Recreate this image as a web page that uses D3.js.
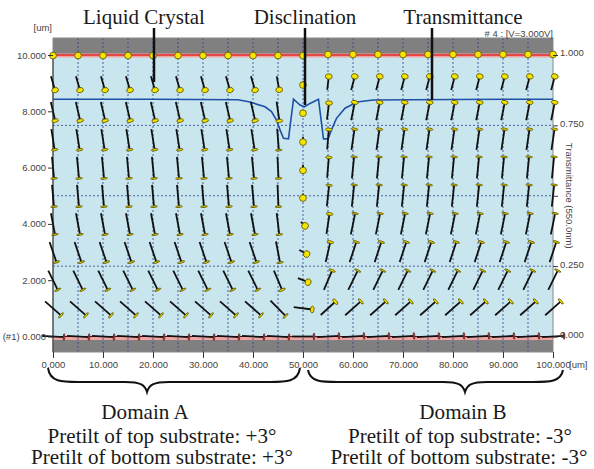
<!DOCTYPE html>
<html>
<head>
<meta charset="utf-8">
<script src="https://cdn.jsdelivr.net/npm/d3@7"></script>
<style>
  body { margin: 0; background: #fff; }
  svg text { font-family: Arial, "Liberation Sans", sans-serif; }
  .serif { font-family: "Liberation Serif", "Times New Roman", serif !important; fill: #1a1a1a; }
  .tick text { font-size: 9.5px; fill: #444; }
</style>
</head>
<body>
<div id="chart"></div>
<script>
// LC director field (TN cell at 3V) with transmittance overlay

// grid of director positions
var positionsX = [0, 5, 10, 15, 20, 25, 30, 35, 40, 45, 50, 55, 60, 65, 70, 75, 80, 85, 90, 95, 100];
var layersZ = [0, 1, 2, 3, 4, 5, 6, 7, 8, 9, 10];

// tilt (deg, sign = head up/down) and twist (deg) per layer, bottom -> top
var tiltDomainA = [-3, -39.5, -61, -66, -75, -82, -79, -70, -58, -39.5, -3];
var twistDomainA = [0, 20, 27, 40, 45, 50, 60, 64, 68, 76, 90];
var tiltDomainB = [3, 39, 61, 66, 73, 80, 78, 70, 54, 38, 3];
var twistDomainB = [0, 24, 28, 42, 48, 52, 62, 66, 74, 78, 90];

// columns next to the disclination
var tilt45 = [-3, -44, -61, -73, -76, -84, -80, -76, -61, -37.5, -3];
var twist45 = [0, 18, 40, 51, 61, 65, 74, 72, 75, 82, 90];
var tilt50 = [0, -6, -10.5, -10.5, -10.5, -12, -15, -14, -10, -10, -3];
var twist50 = [0, 32, 62, 70, 79, 90, 90, 90, 90, 90, 90];
var tilt55 = [3, 37, 61, 65, 65, 73, 68, 65, 49, 37, 3];
var twist55 = [0, 34, 40, 60, 71, 69, 78, 80, 82, 85, 90];

// transmittance along x
var transPos = [0, 20, 37, 39.4, 42.4, 43.7, 44.7, 45.4, 46.1, 47.1, 48.1, 49.4, 50.3, 51.4, 53.1, 54.1, 55.0, 55.7, 56.7, 58.4, 60.8, 64, 80, 100];
var transVal = [0.843, 0.843, 0.841, 0.833, 0.816, 0.799, 0.769, 0.734, 0.704, 0.702, 0.843, 0.822, 0.816, 0.828, 0.843, 0.702, 0.702, 0.734, 0.775, 0.811, 0.833, 0.840, 0.842, 0.843];

// axis ticks
var xTicks = [0, 10, 20, 30, 40, 50, 60, 70, 80, 90, 100];
var zTicks = [0, 2, 4, 6, 8, 10];
var tTicks = [0, 0.25, 0.5, 0.75, 1];
var gridX = [5, 10, 15, 20, 25, 30, 35, 40, 45, 50, 55, 60, 65, 70, 75, 80, 85, 90, 95];
var gridT = [0.25, 0.5, 0.75];

var svgWidth = 594;
var svgHeight = 469;

var plotTop = 38, plotBottom = 352;

var svg = d3.select("#chart")
    .append("svg")
    .attr("width", svgWidth)
    .attr("height", svgHeight);

var xScale = d3.scaleLinear().domain([0, 100]).range([53, 553]);
var zScale = d3.scaleLinear().domain([0, 10]).range([336.5, 55]);
var tScale = d3.scaleLinear().domain([0, 1]).range([336.5, 55]);

// substrates (gray) and LC layer (light blue)
svg.append("rect")
    .attr("x", xScale(0)).attr("y", plotTop)
    .attr("width", xScale(100) - xScale(0)).attr("height", plotBottom - plotTop)
    .attr("fill", "#808080");
svg.append("rect")
    .attr("x", xScale(0)).attr("y", zScale(10))
    .attr("width", xScale(100) - xScale(0)).attr("height", zScale(0) - zScale(10) + 2)
    .attr("fill", "#c9e6ef");

// alignment layers
svg.append("rect")
    .attr("x", xScale(0)).attr("y", zScale(10) - 1.5)
    .attr("width", 500).attr("height", 4)
    .attr("fill", "#f0a3a3");
svg.append("line")
    .attr("x1", xScale(0)).attr("x2", xScale(100))
    .attr("y1", zScale(10)).attr("y2", zScale(10))
    .attr("stroke", "#e02828").attr("stroke-width", 1.5);
svg.append("rect")
    .attr("x", xScale(0)).attr("y", zScale(0))
    .attr("width", 500).attr("height", 3.5)
    .attr("fill", "#f0a3a3");
svg.append("line")
    .attr("x1", 43).attr("x2", xScale(100))
    .attr("y1", zScale(0)).attr("y2", zScale(0))
    .attr("stroke", "#5a1010").attr("stroke-width", 1.2);

// dashed grid
svg.selectAll(".gridx")
    .data(gridX)
    .join("line")
    .attr("x1", d => xScale(d)).attr("x2", d => xScale(d))
    .attr("y1", plotTop).attr("y2", plotBottom)
    .attr("stroke", "#2c3f8a").attr("stroke-width", 0.8)
    .attr("stroke-dasharray", "2,2");
svg.selectAll(".gridt")
    .data(gridT)
    .join("line")
    .attr("x1", xScale(0)).attr("x2", xScale(100))
    .attr("y1", d => tScale(d)).attr("y2", d => tScale(d))
    .attr("stroke", "#2c3f8a").attr("stroke-width", 0.8)
    .attr("stroke-dasharray", "2,2");

// frame
svg.append("rect")
    .attr("x", xScale(0)).attr("y", plotTop)
    .attr("width", 500).attr("height", plotBottom - plotTop)
    .attr("fill", "none").attr("stroke", "#8a8a8a");
svg.append("line")
    .attr("x1", xScale(0)).attr("x2", xScale(0))
    .attr("y1", zScale(10)).attr("y2", plotBottom)
    .attr("stroke", "#333");

// transmittance curve
var transData = transPos.map((p, i) => ({ x: p, t: transVal[i] }));
var line = d3.line().x(d => xScale(d.x)).y(d => tScale(d.t));
svg.append("path")
    .datum(transData)
    .attr("d", line)
    .attr("fill", "none")
    .attr("stroke", "#1f50a8")
    .attr("stroke-width", 1.6);

// pick the tilt/twist arrays for a column
function columnAngles(px) {
    if (px === 45) return [tilt45, twist45];
    if (px === 50) return [tilt50, twist50];
    if (px === 55) return [tilt55, twist55];
    if (px < 50) return [tiltDomainA, twistDomainA];
    return [tiltDomainB, twistDomainB];
}

var rodLength = 22;
var headR = 3.4;
var directors = [];
positionsX.forEach(px => {
    var ang = columnAngles(px);
    layersZ.forEach((z, i) => {
        directors.push({ x: px, z: z, tilt: ang[0][i], twist: ang[1][i] });
    });
});

var dirGroup = svg.append("g");
directors.forEach(d => {
    var th = d.tilt * Math.PI / 180;
    var ph = d.twist * Math.PI / 180;
    var nx = Math.cos(th) * Math.cos(ph);
    var ny = Math.cos(th) * Math.sin(ph);
    var nz = Math.sin(th);
    var cx = xScale(d.x), cy = zScale(d.z);
    var hx = cx + nx * rodLength / 2, hy = cy - nz * rodLength / 2;
    var tx = cx - nx * rodLength / 2, ty = cy + nz * rodLength / 2;
    var a = Math.atan2(hy - cy, hx - cx) * 180 / Math.PI;
    dirGroup.append("line")
        .attr("x1", tx).attr("y1", ty).attr("x2", hx).attr("y2", hy)
        .attr("stroke", "#111").attr("stroke-width", 1.8);
    dirGroup.append("ellipse")
        .attr("transform", `translate(${hx},${hy}) rotate(${a})`)
        .attr("rx", Math.max(headR * Math.abs(ny), 0.8))
        .attr("ry", headR)
        .attr("fill", d.z === 0 ? "#c87070" : "#f4e400")
        .attr("stroke", d.z === 0 ? "#5a1010" : "#5c5200")
        .attr("stroke-width", 0.8);
});

// axes
var bottomAxis = d3.axisBottom(xScale).tickValues(xTicks).tickSize(6).tickPadding(3)
    .tickFormat(d3.format(".3f"));
var xAxis = svg.append("g")
    .attr("transform", `translate(0, ${plotBottom})`)
    .call(bottomAxis);
xAxis.select(".domain").remove();
xAxis.selectAll(".tick line").attr("stroke", "#333");

var leftAxis = d3.axisLeft(zScale).tickValues(zTicks).tickSize(5).tickPadding(2)
    .tickFormat(d => d === 0 ? "(#1) 0.000" : d3.format(".3f")(d));
var yAxis = svg.append("g")
    .attr("transform", `translate(${xScale(0)}, 0)`)
    .call(leftAxis);
yAxis.select(".domain").remove();
yAxis.selectAll(".tick line").attr("stroke", "#333");

var rightAxis = d3.axisRight(tScale).tickValues(tTicks).tickSize(5).tickPadding(2)
    .tickFormat(d => d === 0.5 ? "" : d3.format(".3f")(d));
var tAxis = svg.append("g")
    .attr("transform", `translate(${xScale(100)}, 0)`)
    .call(rightAxis);
tAxis.select(".domain").remove();
tAxis.selectAll(".tick line").attr("stroke", "#333");
tAxis.selectAll(".tick text").attr("dy", "0.1em");

svg.append("text")
    .attr("x", 569).attr("y", 367.5)
    .attr("font-size", "9.5px").attr("fill", "#444")
    .text("[um]");
svg.append("text")
    .attr("x", 52).attr("y", 30.5)
    .attr("text-anchor", "end")
    .attr("font-size", "9.5px").attr("fill", "#444")
    .text("[um]");
svg.append("text")
    .attr("x", 553).attr("y", 36.5)
    .attr("text-anchor", "end")
    .attr("font-size", "9.5px").attr("fill", "#444")
    .text("# 4 : [V=3.000V]");
svg.append("text")
    .attr("transform", `translate(566, ${tScale(0.5)}) rotate(90)`)
    .attr("text-anchor", "middle")
    .attr("font-size", "9.5px").attr("fill", "#444")
    .text("Transmittance (550.0nm)");

// callouts
var callouts = [
    { label: "Liquid Crystal", tx: 144, px: 154, y2: 82 },
    { label: "Disclination", tx: 305, px: 305, y2: 105 },
    { label: "Transmittance", tx: 463, px: 432, y2: 100 }
];
callouts.forEach(c => {
    svg.append("line")
        .attr("x1", c.px).attr("x2", c.px)
        .attr("y1", 28).attr("y2", c.y2)
        .attr("stroke", "#111").attr("stroke-width", 2.5);
    svg.append("text")
        .attr("class", "serif")
        .attr("x", c.tx).attr("y", 24)
        .attr("text-anchor", "middle")
        .attr("font-size", "21px")
        .text(c.label);
});

// braces under the axis
function bracePath(x0, x1, xm, yEnd, yMid, yTip) {
    return `M${x0},${yEnd} C${x0 + 2},${yMid} ${x0 + 14},${yMid} ${x0 + 30},${yMid}` +
        ` L${xm - 22},${yMid} C${xm - 6},${yMid} ${xm - 2},${yMid + 3} ${xm},${yTip}` +
        ` C${xm + 2},${yMid + 3} ${xm + 6},${yMid} ${xm + 22},${yMid}` +
        ` L${x1 - 30},${yMid} C${x1 - 14},${yMid} ${x1 - 2},${yMid} ${x1},${yEnd}`;
}
svg.append("path")
    .attr("d", bracePath(48, 300, 147, 368, 382, 392))
    .attr("fill", "none").attr("stroke", "#111").attr("stroke-width", 2);
svg.append("path")
    .attr("d", bracePath(308, 563, 465, 370, 382, 392))
    .attr("fill", "none").attr("stroke", "#111").attr("stroke-width", 2);

var domainText = [
    { x: [145, 162, 162], lines: ["Domain A", "Pretilt of top substrate: +3\u00b0", "Pretilt of bottom substrate: +3\u00b0"] },
    { x: [463, 460, 459], lines: ["Domain B", "Pretilt of top substrate: -3\u00b0", "Pretilt of bottom substrate: -3\u00b0"] }
];
var lineY = [419, 443, 464];
domainText.forEach(dt => {
    dt.lines.forEach((t, i) => {
        svg.append("text")
            .attr("class", "serif")
            .attr("transform", `translate(${dt.x[i]}, ${lineY[i]}) scale(1.03, 1)`)
            .attr("text-anchor", "middle")
            .attr("font-size", "20.5px")
            .text(t);
    });
});
</script>
</body>
</html>
